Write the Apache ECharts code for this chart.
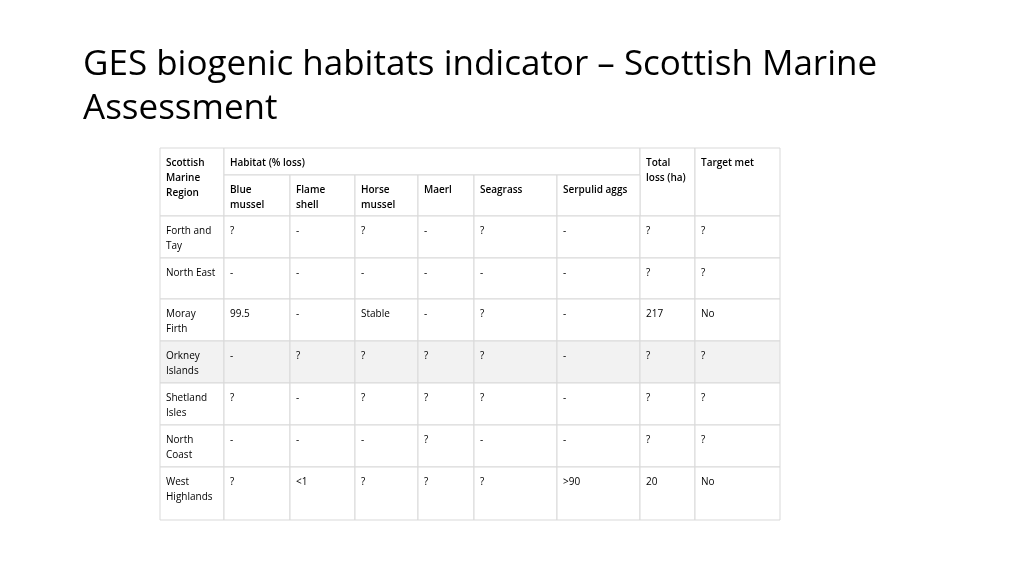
<!DOCTYPE html><html><head><meta charset="utf-8">
<script src="https://cdn.jsdelivr.net/npm/echarts@6/dist/echarts.min.js"></script>
<style>html,body{margin:0;background:#fff}#c{width:1024px;height:576px}</style></head><body><div id="c"></div>
<script>
const regions=["Forth and\nTay","North East","Moray\nFirth","Orkney\nIslands","Shetland\nIsles","North\nCoast","West\nHighlands"];
const habitats=["Blue\nmussel","Flame\nshell","Horse\nmussel","Maerl","Seagrass","Serpulid aggs"];
const blueMussel=["?","-","99.5","-","?","-","?"];
const flameShell=["-","-","-","?","-","-","<1"];
const horseMussel=["?","-","Stable","?","?","-","?"];
const maerl=["-","-","-","?","?","?","?"];
const seagrass=["?","-","?","?","?","-","?"];
const serpulid=["-","-","-","-","-","-",">90"];
const totalLoss=["?","?","217","?","?","?","20"];
const targetMet=["?","?","No","?","?","?","No"];
// layout (px in grid units)
const colEdges=[0,64,130,195,258,314,397,480,535,620];
const rowEdges=[0,27,68,110,151,193,235,277,319,372];
const cells=[];
cells.push([0,1,0,2,"Scottish\nMarine\nRegion",0,1]);
cells.push([1,7,0,1,"Habitat (% loss)",0,1]);
cells.push([7,8,0,2,"Total\nloss (ha)",0,1]);
cells.push([8,9,0,2,"Target met",0,1]);
habitats.forEach((h,i)=>cells.push([1+i,2+i,1,2,h,0,1]));
const cols=[blueMussel,flameShell,horseMussel,maerl,seagrass,serpulid,totalLoss,targetMet];
regions.forEach((r,i)=>{
  const bg=i===3?1:0;
  cells.push([0,1,2+i,3+i,r,bg,0]);
  cols.forEach((c,j)=>cells.push([1+j,2+j,2+i,3+i,c[i],bg,0]));
});
const chart=echarts.init(document.getElementById('c'));
chart.setOption({
  animation:false,
  title:{text:"GES biogenic habitats indicator – Scottish Marine\nAssessment",left:78,top:38,
    textStyle:{fontFamily:"Open Sans",fontSize:35,fontWeight:'normal',color:'#000',lineHeight:44}},
  grid:{left:160,top:148,width:620,height:372},
  xAxis:{type:'value',min:0,max:620,show:false},
  yAxis:{type:'value',min:0,max:372,inverse:true,show:false},
  series:[{type:'custom',data:cells,renderItem:(p,api)=>{
    const d=cells[p.dataIndex];
    const a=api.coord([colEdges[d[0]],rowEdges[d[2]]]);
    const b=api.coord([colEdges[d[1]],rowEdges[d[3]]]);
    return {type:'group',children:[
      {type:'rect',shape:{x:a[0],y:a[1],width:b[0]-a[0],height:b[1]-a[1]},
       style:{fill:d[5]?'#f2f2f2':'#fff',stroke:'#d9d9d9',lineWidth:1}},
      {type:'text',x:a[0]+6,y:a[1]+8,style:{text:d[4],fontFamily:"Open Sans",fontSize:10,fontWeight:d[6]?600:'normal',lineHeight:15,fill:'#000'}}
    ]};
  }}]
});
</script></body></html>
